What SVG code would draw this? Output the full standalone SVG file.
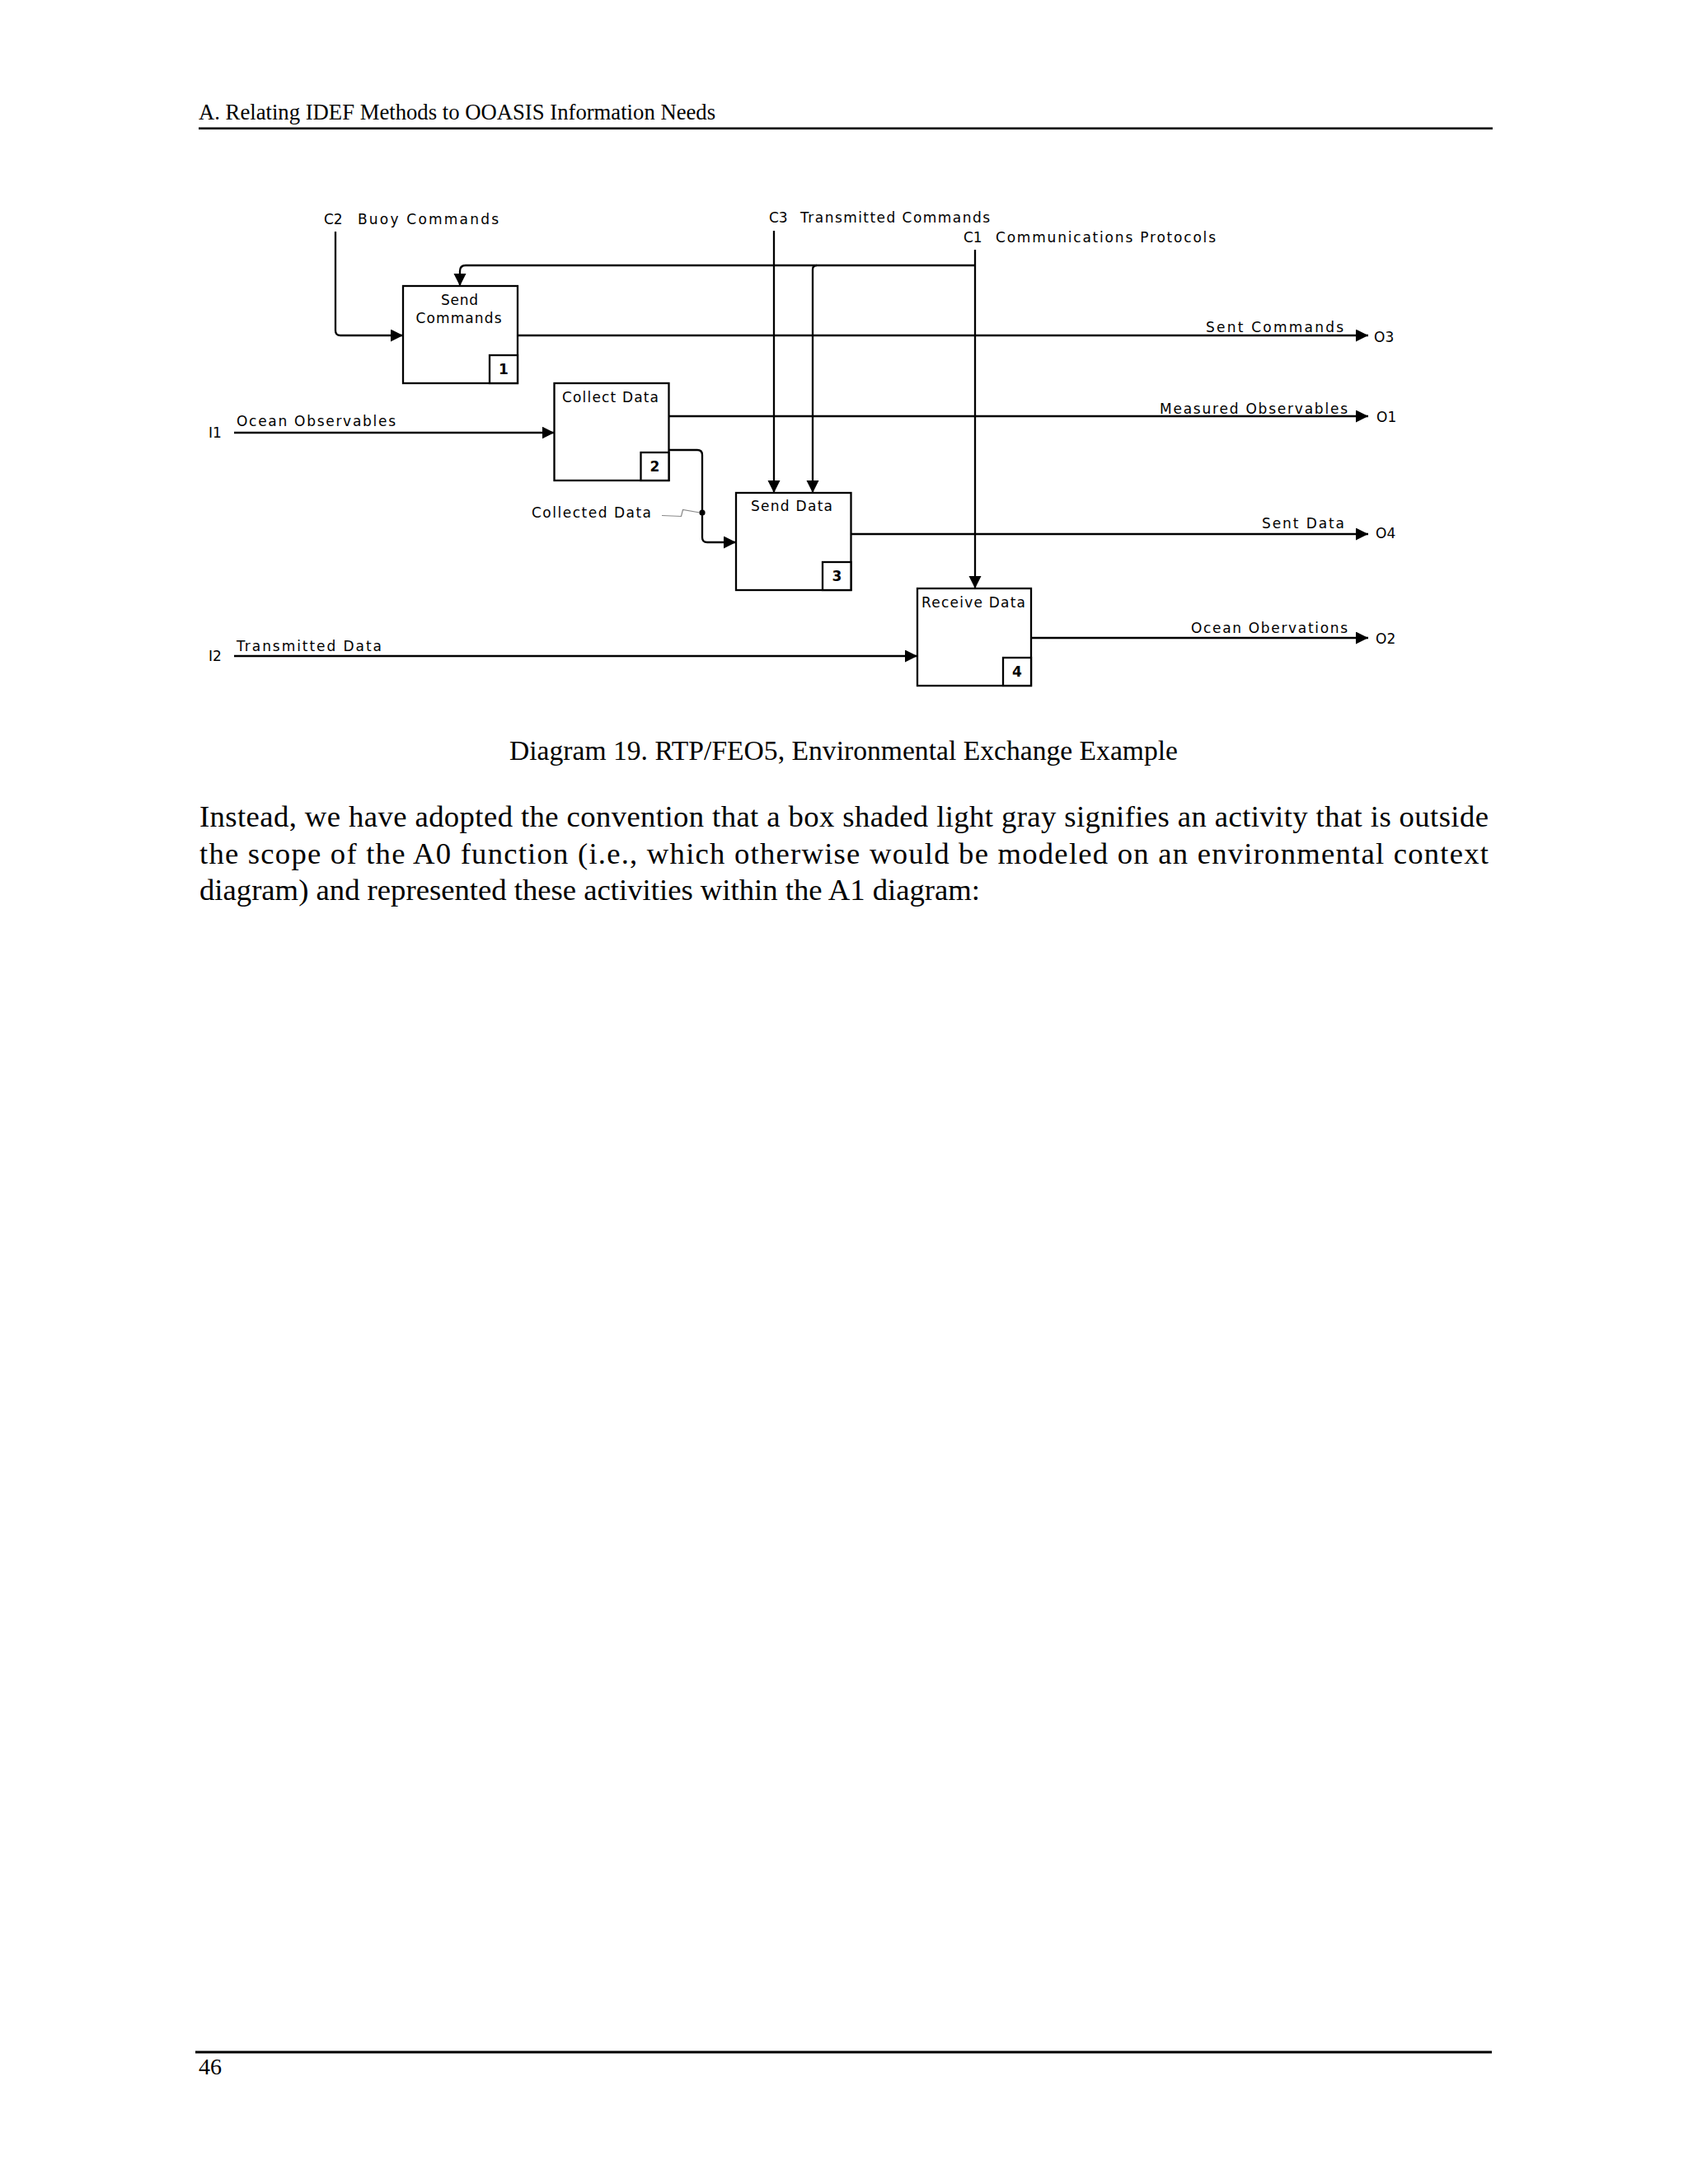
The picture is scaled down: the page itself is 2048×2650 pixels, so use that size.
<svg xmlns="http://www.w3.org/2000/svg" width="2048" height="2650" viewBox="0 0 2048 2650">
<style>
.pg{font-family:"Liberation Serif","Times New Roman",serif;fill:#000}
.lb{font-family:"DejaVu Sans","Verdana",sans-serif;font-size:17px;fill:#000}
.num{font-family:"DejaVu Sans","Verdana",sans-serif;font-size:17px;font-weight:bold;fill:#000}
.box{fill:#fff;stroke:#000;stroke-width:2.3}
.ln{fill:none;stroke:#000;stroke-width:2.3}
.arr{fill:none;stroke:#000;stroke-width:2.3;marker-end:url(#ah)}
</style>
<defs>
<marker id="ah" markerUnits="userSpaceOnUse" markerWidth="16" markerHeight="16" refX="15" refY="7.5" orient="auto">
<path d="M0,0 L15,7.5 L0,15 Z" fill="#000"/>
</marker>
</defs>
<rect width="2048" height="2650" fill="#fff"/>

<!-- page header -->
<text class="pg" x="241" y="145" font-size="26.7">A. Relating IDEF Methods to OOASIS Information Needs</text>
<rect x="241" y="154.5" width="1570" height="2.6" fill="#000"/>

<!-- connectors -->
<g id="connectors">
<path class="arr" d="M407,281 V401 Q407,407 413,407 H489"/>
<path class="arr" d="M1183,303 V714"/>
<path class="arr" d="M1183,322 H565 Q558,322 558,329 V347"/>
<path class="arr" d="M991,322 Q986,322 986,327 V598"/>
<path class="arr" d="M939,280 V598"/>
<path class="arr" d="M628,407 H1660"/>
<path class="arr" d="M811.5,505 H1660"/>
<path class="arr" d="M284,525 H672.5"/>
<path class="arr" d="M811.5,546 H846 Q852,546 852,552 V652 Q852,658 858,658 H893"/>
<circle cx="852" cy="622" r="3.6" fill="#000"/>
<path d="M803,625.5 L826.5,626.5 L828.5,618.5 L849,622" fill="none" stroke="#888" stroke-width="1.2"/>
<path class="arr" d="M1032,648 H1660"/>
<path class="arr" d="M1251,774 H1660"/>
<path class="arr" d="M284,796 H1113"/>

<text class="lb" x="393" y="272">C2</text>
<text class="lb" x="434" y="272" textLength="171" lengthAdjust="spacing">Buoy Commands</text>
<text class="lb" x="933" y="270">C3</text>
<text class="lb" x="971" y="270" textLength="230" lengthAdjust="spacing">Transmitted Commands</text>
<text class="lb" x="1169" y="294">C1</text>
<text class="lb" x="1208" y="294" textLength="267" lengthAdjust="spacing">Communications Protocols</text>
<text class="lb" x="253" y="531">I1</text>
<text class="lb" x="287" y="517" textLength="193" lengthAdjust="spacing">Ocean Observables</text>
<text class="lb" x="253" y="802">I2</text>
<text class="lb" x="287" y="790" textLength="176" lengthAdjust="spacing">Transmitted Data</text>
<text class="lb" x="645" y="628" textLength="145" lengthAdjust="spacing">Collected Data</text>
<text class="lb" x="1463" y="403" textLength="167" lengthAdjust="spacing">Sent Commands</text>
<text class="lb" x="1667" y="415">O3</text>
<text class="lb" x="1407" y="502" textLength="228" lengthAdjust="spacing">Measured Observables</text>
<text class="lb" x="1670" y="512">O1</text>
<text class="lb" x="1531" y="641" textLength="100" lengthAdjust="spacing">Sent Data</text>
<text class="lb" x="1669" y="653">O4</text>
<text class="lb" x="1445" y="768" textLength="190" lengthAdjust="spacing">Ocean Obervations</text>
<text class="lb" x="1669" y="781">O2</text>
</g>

<!-- nodes -->
<g id="node-send-commands">
<rect class="box" x="489" y="347" width="139" height="118"/>
<rect class="box" x="594" y="431" width="34" height="34"/>
<text class="lb" x="535" y="370" textLength="45" lengthAdjust="spacing">Send</text>
<text class="lb" x="504.5" y="392" textLength="104" lengthAdjust="spacing">Commands</text>
<text class="num" x="611" y="454" text-anchor="middle">1</text>
</g>
<g id="node-collect-data">
<rect class="box" x="672.5" y="465" width="139" height="118"/>
<rect class="box" x="777.5" y="549" width="34" height="34"/>
<text class="lb" x="682" y="488" textLength="117" lengthAdjust="spacing">Collect Data</text>
<text class="num" x="794.5" y="572" text-anchor="middle">2</text>
</g>
<g id="node-send-data">
<rect class="box" x="893" y="598" width="139.5" height="118"/>
<rect class="box" x="998" y="682" width="34.5" height="34"/>
<text class="lb" x="911" y="620" textLength="99" lengthAdjust="spacing">Send Data</text>
<text class="num" x="1015.5" y="705" text-anchor="middle">3</text>
</g>
<g id="node-receive-data">
<rect class="box" x="1113" y="714" width="138" height="118"/>
<rect class="box" x="1217" y="798" width="34" height="34"/>
<text class="lb" x="1118" y="737" textLength="126" lengthAdjust="spacing">Receive Data</text>
<text class="num" x="1234" y="821" text-anchor="middle">4</text>
</g>

<!-- caption and body -->
<text class="pg" x="618" y="922" font-size="33.6" textLength="811" lengthAdjust="spacing">Diagram 19. RTP/FEO5, Environmental Exchange Example</text>
<text class="pg" x="242" y="1003" font-size="36.7" textLength="1564" lengthAdjust="spacing">Instead, we have adopted the convention that a box shaded light gray signifies an activity that is outside</text>
<text class="pg" x="242" y="1048" font-size="36.7" textLength="1564" lengthAdjust="spacing">the scope of the A0 function (i.e., which otherwise would be modeled on an environmental context</text>
<text class="pg" x="242" y="1092" font-size="36.7" textLength="947" lengthAdjust="spacing">diagram) and represented these activities within the A1 diagram:</text>

<!-- footer -->
<rect x="237" y="2488.5" width="1573" height="3" fill="#000"/>
<text class="pg" x="241" y="2517" font-size="28">46</text>
</svg>
